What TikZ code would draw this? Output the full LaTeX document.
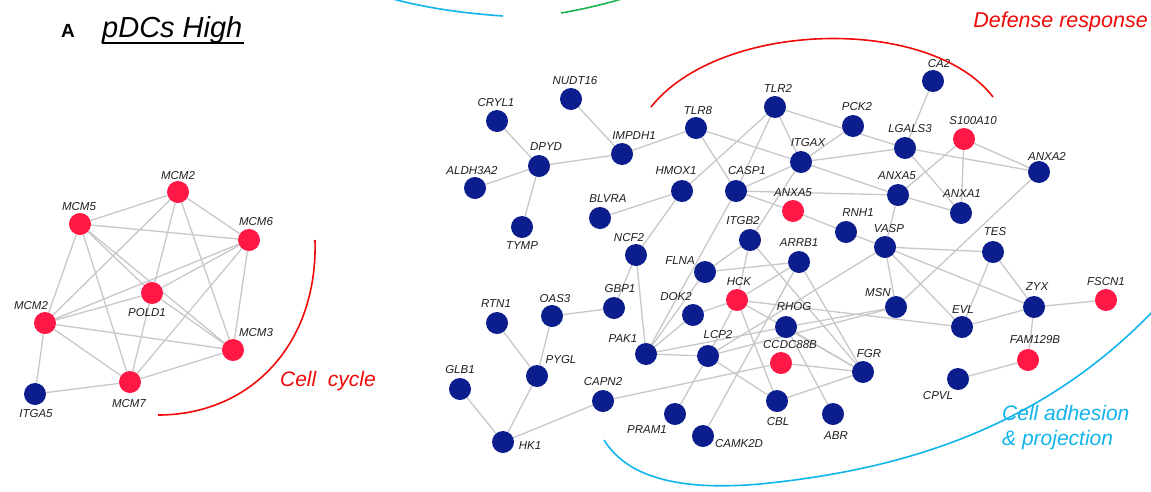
\documentclass[tikz,border=0pt]{standalone}
\usepackage{fontspec}
\setmainfont{Liberation Sans}
\usetikzlibrary{backgrounds}
\definecolor{nblue}{HTML}{0C1E8E}
\definecolor{nred}{HTML}{FF1846}
\definecolor{egray}{HTML}{C8C8C8}
\definecolor{arcred}{HTML}{F00A0A}
\definecolor{arccyan}{HTML}{12B5EA}
\definecolor{arcgreen}{HTML}{1DB34F}
\tikzset{
  bn/.style={circle, fill=nblue, minimum size=22pt, inner sep=0pt},
  rn/.style={circle, fill=nred, minimum size=22pt, inner sep=0pt},
  lb/.style={font=\fontsize{11.5}{13}\selectfont\itshape, inner sep=0pt, text=black!88},
  ed/.style={draw=egray, line width=1.3pt},
  grp/.style={font=\fontsize{21}{24}\selectfont\itshape, inner sep=0pt},
  arc/.style={line width=1.6pt}
}
\newcommand\mkg[5]{\node[#2] (#1) at (#3) {}; \node[lb] (t#1) at (#4) {#5};}
\begin{document}
\begin{tikzpicture}[x=1pt,y=-1pt]
\useasboundingbox (0,0) rectangle (1151,491);
% title
\node[font=\fontsize{19}{22}\selectfont\bfseries, inner sep=0pt] (ttlA) at (68,31) {A};
\node[font=\fontsize{29}{33}\selectfont\itshape, inner sep=0pt, anchor=base west] (ttl) at (102,37) {pDCs High};
\draw[line width=2pt] (ttl.base west) ++(0,5.5) -- ++(142,0);
% top arcs
\draw[arc, arccyan] (386,-3) .. controls (420,7) and (460,13) .. (503,16);
\draw[arc, arcgreen] (561,13) .. controls (590,8) and (612,2) .. (628,-3);
% left cluster
\mkg{MCM2a}{rn}{178,192}{178,176}{MCM2}
\mkg{MCM5}{rn}{80,224}{79,207}{MCM5}
\mkg{MCM6}{rn}{249,240}{256,222}{MCM6}
\mkg{POLD1}{rn}{152,293}{147,313}{POLD1}
\mkg{MCM2b}{rn}{45,323}{31,306}{MCM2}
\mkg{MCM3}{rn}{233,350}{256,333}{MCM3}
\mkg{MCM7}{rn}{130,382}{129,404}{MCM7}
\mkg{ITGA5}{bn}{35,394}{36,414}{ITGA5}
% right network
\mkg{NUDT16}{bn}{571,99}{575,81}{NUDT16}
\mkg{CRYL1}{bn}{497,121}{496,103}{CRYL1}
\mkg{DPYD}{bn}{539,166}{546,147}{DPYD}
\mkg{ALDH3A2}{bn}{475,188}{472,171}{ALDH3A2}
\mkg{TYMP}{bn}{522,227}{522,246}{TYMP}
\mkg{IMPDH1}{bn}{622,154}{634,136}{IMPDH1}
\mkg{TLR8}{bn}{696,128}{698,111}{TLR8}
\mkg{TLR2}{bn}{775,107}{778,88}{TLR2}
\mkg{HMOX1}{bn}{682,191}{676,171}{HMOX1}
\mkg{CASP1}{bn}{736,191}{747,171}{CASP1}
\mkg{BLVRA}{bn}{600,218}{608,199}{BLVRA}
\mkg{ITGB2}{bn}{750,240}{743,221}{ITGB2}
\mkg{NCF2}{bn}{636,255}{629,238}{NCF2}
\mkg{FLNA}{bn}{705,272}{680,261}{FLNA}
\mkg{CA2}{bn}{933,81}{939,64}{CA2}
\mkg{PCK2}{bn}{853,126}{857,107}{PCK2}
\mkg{LGALS3}{bn}{905,148}{910,129}{LGALS3}
\mkg{S100A10}{rn}{964,139}{973,121}{S100A10}
\mkg{ITGAX}{bn}{801,162}{808,143}{ITGAX}
\mkg{ANXA2}{bn}{1039,172}{1047,156}{ANXA2}
\mkg{ANXA5b}{bn}{898,195}{897,176}{ANXA5}
\mkg{ANXA1}{bn}{961,213}{962,194}{ANXA1}
\mkg{ANXA5r}{rn}{793,211}{793,193}{ANXA5}
\mkg{RNH1}{bn}{846,232}{858,213}{RNH1}
\mkg{VASP}{bn}{885,247}{889,229}{VASP}
\mkg{TES}{bn}{993,252}{995,232}{TES}
\mkg{ARRB1}{bn}{799,262}{799,243}{ARRB1}
\mkg{HCK}{rn}{737,300}{739,282}{HCK}
\mkg{DOK2}{bn}{693,315}{676,297}{DOK2}
\mkg{GBP1}{bn}{614,308}{620,289}{GBP1}
\mkg{OAS3}{bn}{552,316}{555,299}{OAS3}
\mkg{RTN1}{bn}{497,323}{496,304}{RTN1}
\mkg{PAK1}{bn}{646,354}{623,339}{PAK1}
\mkg{LCP2}{bn}{708,356}{718,335}{LCP2}
\mkg{PYGL}{bn}{537,376}{561,360}{PYGL}
\mkg{GLB1}{bn}{460,389}{460,370}{GLB1}
\mkg{CAPN2}{bn}{603,401}{603,382}{CAPN2}
\mkg{PRAM1}{bn}{675,414}{647,430}{PRAM1}
\mkg{CAMK2D}{bn}{703,436}{739,444}{CAMK2D}
\mkg{HK1}{bn}{503,442}{530,446}{HK1}
\mkg{CBL}{bn}{777,401}{778,422}{CBL}
\mkg{RHOG}{bn}{786,327}{794,307}{RHOG}
\mkg{CCDC88B}{rn}{781,363}{790,345}{CCDC88B}
\mkg{FGR}{bn}{863,372}{869,354}{FGR}
\mkg{ABR}{bn}{833,414}{836,436}{ABR}
\mkg{MSN}{bn}{896,307}{878,293}{MSN}
\mkg{EVL}{bn}{962,327}{963,310}{EVL}
\mkg{ZYX}{bn}{1034,307}{1037,287}{ZYX}
\mkg{FSCN1}{rn}{1106,300}{1106,282}{FSCN1}
\mkg{FAM129B}{rn}{1028,360}{1035,340}{FAM129B}
\mkg{CPVL}{bn}{958,379}{938,396}{CPVL}
% edges
\begin{pgfonlayer}{background}
\fill[white] (0,0) rectangle (1151,491);
\foreach \a/\b in {MCM2a/MCM5, MCM2a/MCM6, MCM2a/MCM2b, MCM2a/POLD1, MCM2a/MCM3,
  MCM5/MCM6, MCM5/POLD1, MCM5/MCM3, MCM5/MCM2b, MCM5/MCM7,
  MCM6/MCM2b, MCM6/POLD1, MCM6/MCM3, MCM6/MCM7,
  POLD1/MCM2b, POLD1/MCM7, POLD1/MCM3,
  MCM2b/MCM3, MCM2b/MCM7, MCM2b/ITGA5, MCM3/MCM7, MCM7/ITGA5}
  \draw[ed] (\a) -- (\b);
\foreach \a/\b in {CRYL1/DPYD, ALDH3A2/DPYD, TYMP/DPYD, DPYD/IMPDH1, NUDT16/IMPDH1,
  IMPDH1/TLR8, TLR8/CASP1, TLR8/ITGAX, TLR2/HMOX1, TLR2/CASP1, TLR2/ITGAX, TLR2/LGALS3,
  PCK2/ITGAX, ITGAX/LGALS3, ITGAX/CASP1, ITGAX/ANXA5b, ITGAX/ITGB2,
  CASP1/ANXA5b, CASP1/ANXA5r, ANXA5r/RNH1, RNH1/VASP, CASP1/PAK1,
  HMOX1/BLVRA, HMOX1/NCF2, NCF2/GBP1, NCF2/PAK1, GBP1/OAS3, OAS3/PYGL, RTN1/PYGL,
  PYGL/HK1, GLB1/HK1, HK1/CAPN2, CAPN2/CCDC88B,
  LGALS3/CA2, LGALS3/ANXA1, LGALS3/ANXA2, S100A10/ANXA2, S100A10/ANXA1, S100A10/ANXA5b,
  ANXA5b/ANXA1, ANXA5b/VASP, VASP/TES, VASP/MSN, VASP/EVL, VASP/ZYX, VASP/LCP2,
  MSN/ANXA2, TES/EVL, TES/ZYX, EVL/ZYX, ZYX/FSCN1, ZYX/FAM129B, FAM129B/CPVL,
  ITGB2/FLNA, ITGB2/HCK, ITGB2/FGR, FLNA/ARRB1, FLNA/PAK1,
  HCK/DOK2, HCK/ARRB1, HCK/LCP2, HCK/CBL, HCK/FGR, HCK/EVL,
  DOK2/PAK1, PAK1/LCP2, PAK1/RHOG, LCP2/PRAM1, LCP2/CBL, LCP2/MSN,
  ARRB1/FGR, ARRB1/CAMK2D, RHOG/MSN, RHOG/FGR, RHOG/ABR, CCDC88B/FGR, CBL/FGR}
  \draw[ed] (\a) -- (\b);
\end{pgfonlayer}
% group arcs
\draw[arc, arcred] (315,240) .. controls (318,345) and (250,415) .. (158,415);
\node[grp, text=arcred] (gcc) at (328,381) {Cell\ \ cycle};
\draw[arc, arcred] (651,107) .. controls (720,20) and (930,15) .. (993,97);
\node[grp, text=arcred, font=\fontsize{21.5}{25}\selectfont\itshape, anchor=east] (gdr) at (1148,22) {Defense response};
\draw[arc, arccyan] (604,440) .. controls (630,482) and (690,490) .. (760,484)
  .. controls (900,470) and (1040,430) .. (1156,308);
\node[grp, text=arccyan, anchor=west] (gca) at (1002,413) {Cell adhesion};
\node[grp, text=arccyan, anchor=west] (gcp) at (1002,440) {\& projection};
\end{tikzpicture}
\end{document}
